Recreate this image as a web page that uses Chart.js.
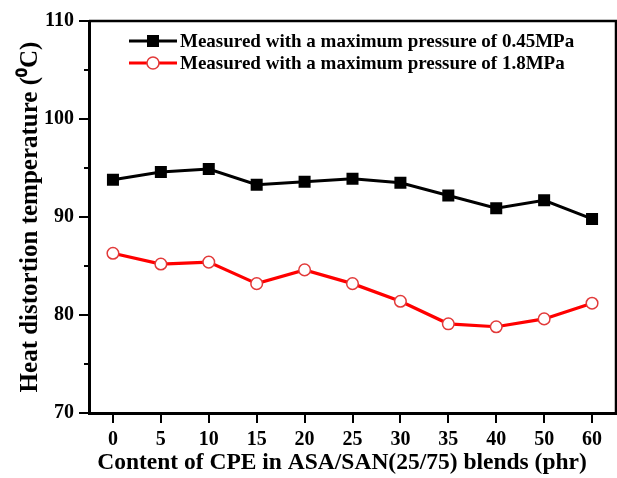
<!DOCTYPE html>
<html>
<head>
<meta charset="utf-8">
<script src="https://cdn.jsdelivr.net/npm/chart.js@4"></script>
<style>
  html, body { margin: 0; padding: 0; background: #fff; overflow: hidden; }
  #wrap { width: 617px; height: 478px; }
</style>
</head>
<body>
<div id="wrap"><canvas id="hdtChart" width="617" height="478"></canvas></div>
<script>
// --- Data ---
const cpeContent = ['0', '5', '10', '15', '20', '25', '30', '35', '40', '50', '60'];
const hdt045 = [93.8, 94.6, 94.9, 93.3, 93.6, 93.9, 93.5, 92.2, 90.9, 91.7, 89.8];
const hdt18 = [86.3, 85.2, 85.4, 83.2, 84.6, 83.2, 81.4, 79.1, 78.8, 79.6, 81.2];
const yTicks = [70, 80, 90, 100, 110];
const yMinorTicks = [75, 85, 95, 105];
const xTitle = 'Content of CPE in ASA/SAN(25/75) blends (phr)';

const FONT = "'Liberation Serif', 'Times New Roman', serif";

// --- Frame on top/right, minor ticks, x title, legend inside plot ---
const framePlugin = {
  id: 'frame',
  afterDraw(chart) {
    const { ctx, chartArea: a } = chart;
    const yScale = chart.scales.y;
    ctx.save();
    ctx.strokeStyle = '#000';
    ctx.lineWidth = 2.5;
    ctx.beginPath();
    ctx.moveTo(a.left, a.top);
    ctx.lineTo(a.right, a.top);
    ctx.lineTo(a.right, a.bottom);
    ctx.stroke();

    // minor ticks on y axis
    ctx.lineWidth = 2;
    yMinorTicks.forEach(v => {
      const py = yScale.getPixelForValue(v);
      ctx.beginPath();
      ctx.moveTo(a.left - 5, py);
      ctx.lineTo(a.left, py);
      ctx.stroke();
    });

    // x axis title (sits a little left of centre in the original)
    ctx.font = 'bold 23.5px ' + FONT;
    ctx.textAlign = 'center';
    ctx.textBaseline = 'middle';
    ctx.fillStyle = '#000';
    ctx.fillText(xTitle, 342, 463);

    // legend
    ctx.font = 'bold 19px ' + FONT;
    ctx.textAlign = 'left';
    chart.data.datasets.forEach((ds, i) => {
      const y = 41 + i * 22;
      ctx.strokeStyle = ds.borderColor;
      ctx.lineWidth = 3;
      ctx.beginPath();
      ctx.moveTo(129, y);
      ctx.lineTo(177, y);
      ctx.stroke();
      if (ds.pointStyle === 'rect') {
        ctx.fillStyle = ds.pointBackgroundColor;
        ctx.fillRect(147, y - 6, 12, 12);
      } else {
        ctx.beginPath();
        ctx.arc(153, y, 6, 0, Math.PI * 2);
        ctx.fillStyle = '#fff';
        ctx.fill();
        ctx.lineWidth = 1.5;
        ctx.strokeStyle = ds.pointBorderColor;
        ctx.stroke();
      }
      ctx.fillStyle = '#000';
      ctx.fillText(ds.label, 180, y + 1);
    });
    ctx.restore();
  }
};

new Chart(document.getElementById('hdtChart'), {
  type: 'line',
  data: {
    labels: cpeContent,
    datasets: [
      {
        label: 'Measured with a maximum pressure of 0.45MPa',
        data: hdt045,
        borderColor: '#000',
        borderWidth: 3,
        pointStyle: 'rect',
        pointRadius: 8.5,
        pointBackgroundColor: '#000',
        pointBorderColor: '#000',
        pointBorderWidth: 0,
        tension: 0,
        fill: false
      },
      {
        label: 'Measured with a maximum pressure of 1.8MPa',
        data: hdt18,
        borderColor: '#ff0000',
        borderWidth: 3.2,
        pointStyle: 'circle',
        pointRadius: 5.8,
        pointBackgroundColor: '#fff',
        pointBorderColor: '#e23a3a',
        pointBorderWidth: 1.5,
        tension: 0,
        fill: false
      }
    ]
  },
  options: {
    responsive: false,
    animation: false,
    layout: { autoPadding: false, padding: { top: 21, right: 1, left: 0, bottom: 0 } },
    plugins: { legend: { display: false }, tooltip: { enabled: false } },
    scales: {
      x: {
        type: 'category',
        offset: true,
        afterFit: s => { s.height = 65; },
        grid: { display: true, drawOnChartArea: false, drawTicks: true, tickLength: 10, color: '#000', lineWidth: 2 },
        border: { display: true, color: '#000', width: 3 },
        ticks: { color: '#000', padding: 5, font: { family: FONT, size: 20, weight: 'bold' }, maxRotation: 0 },
        title: { display: false }
      },
      y: {
        min: yTicks[0],
        max: yTicks[yTicks.length - 1],
        afterFit: s => { s.width = 89; },
        grid: { display: true, drawOnChartArea: false, drawTicks: true, tickLength: 10, color: '#000', lineWidth: 2 },
        border: { display: true, color: '#000', width: 3 },
        ticks: {
          stepSize: 10,
          color: '#000',
          padding: 5,
          font: { family: FONT, size: 20, weight: 'bold' },
          callback: v => (yTicks.includes(v) ? String(v) : '')
        },
        title: {
          display: true,
          text: 'Heat distortion temperature (\u2070C)',
          color: '#000',
          font: { family: FONT, size: 25, weight: 'bold' },
          padding: { top: 16, bottom: 0 }
        }
      }
    }
  },
  plugins: [framePlugin]
});
</script>
</body>
</html>
